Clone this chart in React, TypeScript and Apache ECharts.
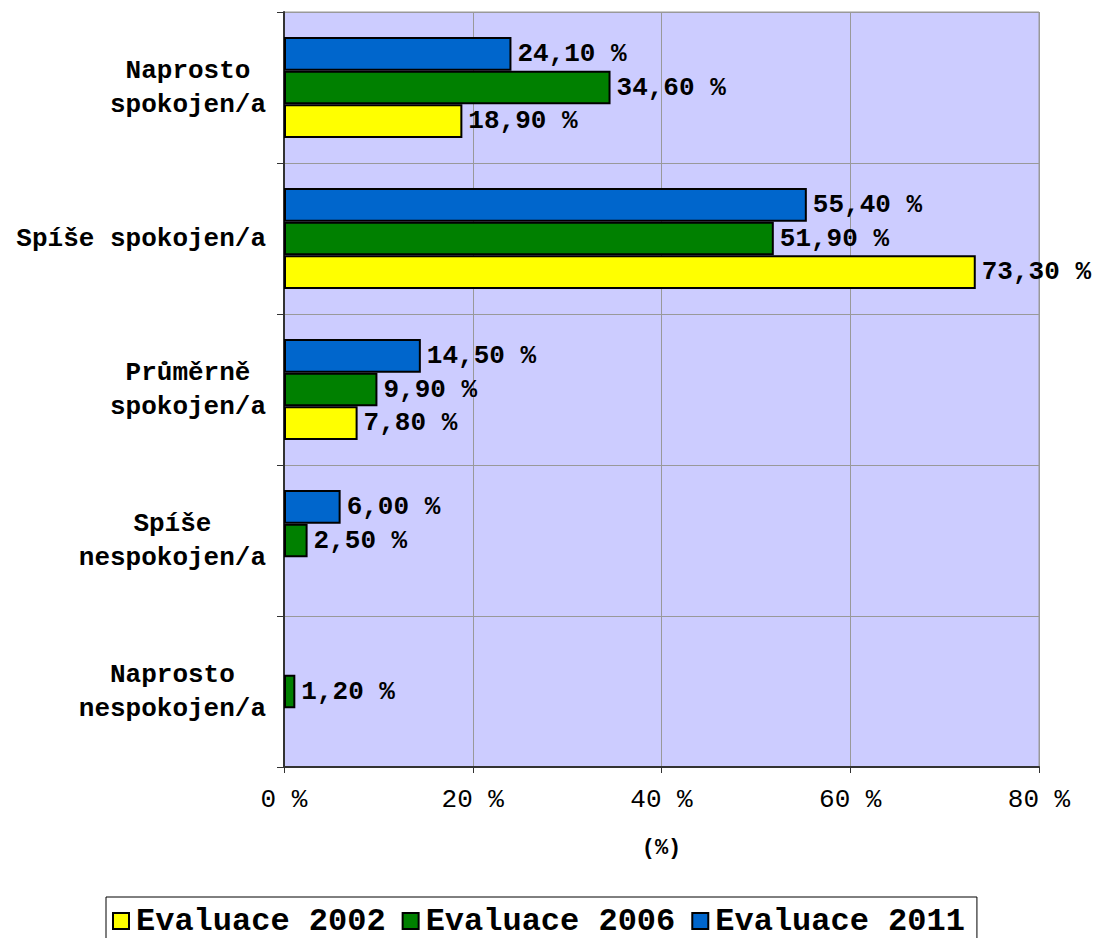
import React, { useEffect, useRef } from "react";
import * as echarts from "echarts";

const categories = [
  "Naprosto\nspokojen/a",
  "Spíše spokojen/a",
  "Průměrně\nspokojen/a",
  "Spíše\nnespokojen/a",
  "Naprosto\nnespokojen/a",
];
const seriesNames = ["Evaluace 2002", "Evaluace 2006", "Evaluace 2011"];
const values2002: (number | null)[] = [18.9, 73.3, 7.8, null, null];
const values2006: (number | null)[] = [34.6, 51.9, 9.9, 2.5, 1.2];
const values2011: (number | null)[] = [24.1, 55.4, 14.5, 6.0, null];
const xTicks = [0, 20, 40, 60, 80];
const colors = ["#FFFF00", "#008000", "#0066CC"];

const MONO = "'Liberation Mono', 'Courier New', monospace";

export default function App() {
  const ref = useRef<HTMLDivElement>(null);
  useEffect(() => {
    if (!ref.current) return;
    const chart = echarts.init(ref.current, null, { renderer: "svg" });
    const label = {
      show: true,
      position: "right" as const,
      distance: 6,
      fontFamily: MONO,
      fontWeight: "bold" as const,
      fontSize: 26,
      color: "#000",
      formatter: (p: any) => p.value.toFixed(2).replace(".", ",") + " %",
    };
    const mk = (name: string, data: (number | null)[], color: string) => ({
      name,
      type: "bar" as const,
      data,
      barGap: "0%",
      barCategoryGap: "33%",
      itemStyle: { color, borderColor: "#000", borderWidth: 2 },
      label,
    });
    chart.setOption({
      animation: false,
      backgroundColor: "#fff",
      grid: {
        left: 284,
        right: 56,
        top: 12,
        bottom: 171,
        show: true,
        backgroundColor: "#CCCCFF",
        borderColor: "#999",
        borderWidth: 1,
      },
      legend: {
        data: seriesNames,
        left: 106,
        top: 897,
        padding: [8, 12, 8, 6],
        itemGap: 16,
        itemWidth: 16,
        itemHeight: 16,
        borderColor: "#000",
        borderWidth: 1,
        backgroundColor: "#fff",
        borderRadius: 0,
        icon: "rect",
        itemStyle: { borderColor: "#000", borderWidth: 2 },
        textStyle: {
          fontFamily: MONO,
          fontWeight: "bold",
          fontSize: 32,
          color: "#000",
          padding: [0, 0, 0, 2],
        },
      },
      xAxis: {
        type: "value",
        min: 0,
        max: 80,
        interval: 20,
        name: "(%)",
        nameLocation: "middle",
        nameGap: 70,
        nameTextStyle: {
          fontFamily: MONO,
          fontWeight: "bold",
          fontSize: 22,
          color: "#000",
        },
        axisLine: { show: true, lineStyle: { color: "#333", width: 2 } },
        axisTick: { show: true, length: 6, lineStyle: { color: "#333" } },
        axisLabel: {
          fontFamily: MONO,
          fontSize: 26,
          color: "#000",
          margin: 20,
          formatter: (v: number) => (xTicks.includes(v) ? v + " %" : ""),
        },
        splitLine: { show: true, lineStyle: { color: "#999", width: 1 } },
      },
      yAxis: {
        type: "category",
        data: categories,
        inverse: true,
        axisLine: { show: true, lineStyle: { color: "#333", width: 2 } },
        axisTick: { show: true, length: 7, lineStyle: { color: "#333" } },
        axisLabel: {
          margin: 18,
          fontFamily: MONO,
          fontWeight: "bold",
          fontSize: 26,
          color: "#000",
          lineHeight: 34,
          formatter: (v: string) =>
            v
              .split("\n")
              .map((l) => "{c|" + l + "}")
              .join("\n"),
          rich: {
            c: {
              align: "center",
              fontFamily: MONO,
              fontWeight: "bold",
              fontSize: 26,
              lineHeight: 34,
              color: "#000",
            },
          },
        },
        splitLine: { show: true, lineStyle: { color: "#999", width: 1 } },
      },
      series: [
        mk(seriesNames[2], values2011, colors[2]),
        mk(seriesNames[1], values2006, colors[1]),
        mk(seriesNames[0], values2002, colors[0]),
      ],
    });
    return () => chart.dispose();
  }, []);
  return (
    <div
      ref={ref}
      style={{ position: "fixed", left: 0, top: 0, width: 1095, height: 938 }}
    />
  );
}
